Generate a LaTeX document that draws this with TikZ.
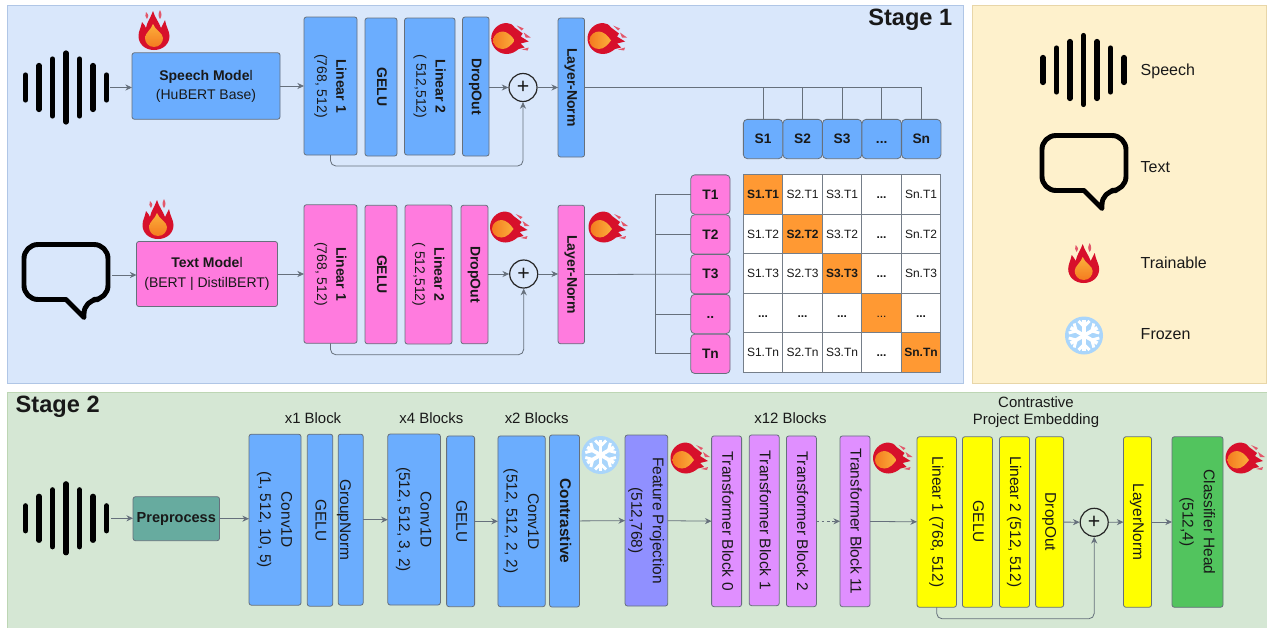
\documentclass[tikz,border=0pt]{standalone}
\usepackage{fontspec}
\setmainfont{Liberation Sans}
\usepackage{graphicx}
\usepackage{array}
\usetikzlibrary{arrows.meta, positioning, shapes.geometric}

\definecolor{panelblue}{HTML}{D9E7FB}
\definecolor{edgeblue}{HTML}{B0C6E6}
\definecolor{panelcream}{HTML}{FEF1CC}
\definecolor{edgecream}{HTML}{E8D6A8}
\definecolor{panelgreen}{HTML}{D5E7D4}
\definecolor{edgegreen}{HTML}{BDD6B4}
\definecolor{boxblue}{HTML}{6BADFE}
\definecolor{boxpink}{HTML}{FF7BDE}
\definecolor{boxteal}{HTML}{67AB9F}
\definecolor{boxindigo}{HTML}{9090FF}
\definecolor{boxviolet}{HTML}{E08FFF}
\definecolor{boxyellow}{HTML}{FFFF00}
\definecolor{boxgreen}{HTML}{52C45E}
\definecolor{boxorange}{HTML}{FF9933}
\definecolor{edgegrey}{HTML}{66707C}
\definecolor{firered}{HTML}{D7102B}
\definecolor{fireamber}{HTML}{FBB03B}
\definecolor{fireorange}{HTML}{F47B20}
\definecolor{iceblue}{HTML}{A9D5FB}

\newcommand{\vtext}[1]{\rotatebox{-90}{\begin{tabular}{@{}c@{}}#1\end{tabular}}}
\newcommand{\smallfont}{\fontsize{10.5}{14.4}\selectfont}
\newcommand{\bigfont}{\fontsize{11.6}{16}\selectfont}

\begin{document}
\begin{tikzpicture}[
    x=0.75pt, y=-0.75pt,
    every node/.style={font=\smallfont, text=black!90},
    sized/.style 2 args={minimum width=#1*0.75pt, minimum height=#2*0.75pt},
    panel/.style={rectangle, line width=0.9pt, inner sep=0pt, anchor=north west},
    block/.style={
        rectangle, rounded corners=1.8pt,
        draw=edgegrey, line width=0.6pt,
        inner sep=0pt, outer sep=0pt, align=center
    },
    cell/.style={
        rectangle, draw=edgegrey!90, fill=white, line width=0.5pt,
        minimum size=39.5*0.75pt, inner sep=0pt, outer sep=0pt,
        font=\fontsize{9}{10}\selectfont, text height=6.5pt, text depth=0pt
    },
    hit/.style={cell, fill=boxorange},
    head/.style={block, rounded corners=3pt, minimum size=39.3*0.75pt, font=\fontsize{10.3}{12}\selectfont\bfseries,
        text height=7.2pt, text depth=0pt},
    plus/.style={
        circle, draw=black!85, line width=0.9pt, fill=none,
        minimum size=28*0.75pt, inner sep=0pt,
        font=\fontsize{16}{16}\selectfont
    },
    tag/.style={font=\fontsize{11.2}{12.8}\selectfont, align=center},
    legend/.style={font=\fontsize{12}{14}\selectfont, anchor=west},
    stage/.style={font=\fontsize{17.7}{20}\selectfont\bfseries},
    line/.style={draw=edgegrey, line width=0.6pt},
    arrow/.style={line, -{Stealth[length=5pt, width=4.6pt]}},
    wave/.pic={
        \foreach \x/\len in {-40.5/12.5, -27/22, -13.5/28.5, 0/34.5, 13.5/28.5, 27/22, 40.5/12.5}
            \draw [black, line width=3.9pt, line cap=round] (\x,-\len) -- (\x,\len);
    },
    bubble/.pic={
        \draw [black, line width=3.7pt, line join=round, rounded corners=10.5pt]
            (0,27.5) -- (-42,27.5) -- (-42,-27.5) -- (42,-27.5) -- (42,27.5) -- (18,27.5)
            [sharp corners] -- (18,45.5) -- cycle;
    },
    fire/.pic={
        \fill [firered] (0,20) .. controls (-9,20) and (-15.5,14) .. (-15.5,6)
            .. controls (-15.5,1) and (-13,-2) .. (-12,-8)
            .. controls (-10,-6) and (-9,-4) .. (-8,-2)
            .. controls (-7,-8) and (-4,-11) .. (-1,-19)
            .. controls (1,-12) and (5,-8) .. (7,-2)
            .. controls (8,-4) and (9,-6) .. (11,-10)
            .. controls (12,-3) and (15.5,1) .. (15.5,6)
            .. controls (15.5,14) and (9,20) .. (0,20) -- cycle;
        \fill [firered!70] (-8,-18) .. controls (-5,-15) and (-5,-13) .. (-7,-11)
            .. controls (-9,-13) and (-9,-15) .. cycle;
        \fill [firered!70] (6,-20) .. controls (8,-16) and (8,-14) .. (6,-11)
            .. controls (4,-14) and (4,-16) .. cycle;
        \shade [top color=fireamber, bottom color=fireorange]
            (0,17) .. controls (-6,17) and (-9,12) .. (-9,8)
            .. controls (-9,3) and (-3,0) .. (-1,-6)
            .. controls (1,0) and (9,3) .. (9,8)
            .. controls (9,12) and (6,17) .. (0,17) -- cycle;
    },
    comet/.pic={
        \fill [firered] (-4,-15.5) .. controls (-13,-15.5) and (-19.5,-8) .. (-19.5,0)
            .. controls (-19.5,8) and (-13,15.5) .. (-4,15.5)
            .. controls (1,15.5) and (5,13) .. (8,10.5) -- (14,9) -- (10,5) -- (18,3) -- (10,-2)
            -- (12,-5) -- (4,-11) .. controls (2,-14) and (-1,-15.5) .. (-4,-15.5) -- cycle;
        \fill [firered!70] (6,-13) -- (13,-10) -- (11,-8) -- cycle;
        \fill [firered!70] (13,-6) -- (20,-1) -- (15,-1) -- cycle;
        \fill [firered!70] (11,11) -- (18,9) -- (17,12) -- cycle;
        \shade [left color=fireorange, right color=fireamber]
            (-8,10.5) .. controls (-14,10.5) and (-17.5,6) .. (-17.5,2)
            .. controls (-17.5,-4) and (-12,-7) .. (-8,-7)
            .. controls (-4,-7) and (1,-3) .. (4,2)
            .. controls (1,6) and (-3,10.5) .. (-8,10.5) -- cycle;
    },
    frost/.pic={
        \fill [iceblue] (0,0) circle (19);
        \foreach \a in {0,60,...,300} {
            \draw [white, line width=2.8pt, rotate=\a] (0,0) -- (0,-15.5);
            \draw [white, line width=2.2pt, rotate=\a] (-5.5,-14.5) -- (0,-9) -- (5.5,-14.5);
        }
    },
]

% Panels
\useasboundingbox (0,0) rectangle (1267,628);
\node (panel_stage1) [panel, sized={956}{378}, fill=panelblue, draw=edgeblue] at (7,5) {};
\node (panel_legend) [panel, sized={294}{378}, fill=panelcream, draw=edgecream] at (972,5) {};
\node (panel_stage2) [panel, sized={1261}{240}, fill=panelgreen, draw=edgegreen] at (7,392) {};

\node (title_stage1) [stage, anchor=east] at (957,20) {Stage 1};
\node (title_stage2) [stage, anchor=west] at (11,407) {Stage 2};

% Speech branch
\pic at (66,87.5) {wave};
\coordinate (wave_end_s) at (110,87.5);
\node (speech_model) [block, sized={148}{66.5}, fill=boxblue] at (206,86) {\textbf{Speech Mode}l\\(HuBERT Base)};
\node (lin1_s) [block, sized={53}{138}, fill=boxblue] at (330.5,86) {\vtext{\textbf{Linear 1}\\(768, 512)}};
\node (gelu_s) [block, sized={32}{138}, fill=boxblue] at (381,87) {\vtext{\textbf{GELU}}};
\node (lin2_s) [block, sized={50.5}{137}, fill=boxblue] at (429.8,86.5) {\vtext{\textbf{Linear 2}\\( 512,512)}};
\node (drop_s) [block, sized={26.5}{139}, fill=boxblue] at (475.8,86.5) {\vtext{\textbf{DropOut}}};
\node (plus_s) [plus] at (523,87.5) {+};
\node (norm_s) [block, sized={26.5}{139}, fill=boxblue] at (571.3,87.5) {\vtext{\textbf{Layer-Norm}}};

\pic at (154,30) {fire};
\pic at (510.7,38.5) {comet};
\pic at (607,38.5) {comet};

\node (s1) [head, fill=boxblue] at (763,139) {S1};
\node (s2) [head, fill=boxblue, right=0.2pt of s1] {S2};
\node (s3) [head, fill=boxblue, right=0.2pt of s2] {S3};
\node (s4) [head, fill=boxblue, right=0.2pt of s3] {...};
\node (s5) [head, fill=boxblue, right=0.2pt of s4] {Sn};

% Text branch
\pic at (66,272) {bubble};
\coordinate (bubble_end_t) at (112,275);
\node (text_model) [block, sized={141}{65}, fill=boxpink] at (207,274) {\textbf{Text Mode}l\\(BERT | DistilBERT)};
\node (lin1_t) [block, sized={53}{138.5}, fill=boxpink] at (330.5,274) {\vtext{\textbf{Linear 1}\\(768, 512)}};
\node (gelu_t) [block, sized={32}{138.5}, fill=boxpink] at (381,274.5) {\vtext{\textbf{GELU}}};
\node (lin2_t) [block, sized={47}{139}, fill=boxpink] at (428.5,274.5) {\vtext{\textbf{Linear 2}\\( 512,512)}};
\node (drop_t) [block, sized={27}{138.5}, fill=boxpink] at (474.5,274.5) {\vtext{\textbf{DropOut}}};
\node (plus_t) [plus] at (523.7,274) {+};
\node (norm_t) [block, sized={26.5}{138.5}, fill=boxpink] at (571.3,274.5) {\vtext{\textbf{Layer-Norm}}};

\pic at (158,219) {fire};
\pic at (509.5,227) {comet};
\pic at (608,227) {comet};

\node (t1) [head, fill=boxpink] at (710.4,194.5) {T1};
\node (t2) [head, fill=boxpink, below=0.4pt of t1] {T2};
\node (t3) [head, fill=boxpink, below=0.4pt of t2] {T3};
\node (t4) [head, fill=boxpink, below=0.4pt of t3] {..};
\node (t5) [head, fill=boxpink, below=0.4pt of t4] {Tn};

% Similarity grid
\node (c11) [hit] at (763,194.5) {\textbf{S1.T1}};
\node (c21) [cell, right=0pt of c11] {S2.T1};
\node (c31) [cell, right=0pt of c21] {S3.T1};
\node (c41) [cell, right=0pt of c31] {\textbf{...}};
\node (c51) [cell, right=0pt of c41] {Sn.T1};
\node (c12) [cell, below=0pt of c11] {S1.T2};
\node (c22) [hit, right=0pt of c12] {\textbf{S2.T2}};
\node (c32) [cell, right=0pt of c22] {S3.T2};
\node (c42) [cell, right=0pt of c32] {\textbf{...}};
\node (c52) [cell, right=0pt of c42] {Sn.T2};
\node (c13) [cell, below=0pt of c12] {S1.T3};
\node (c23) [cell, right=0pt of c13] {S2.T3};
\node (c33) [hit, right=0pt of c23] {\textbf{S3.T3}};
\node (c43) [cell, right=0pt of c33] {\textbf{...}};
\node (c53) [cell, right=0pt of c43] {Sn.T3};
\node (c14) [cell, below=0pt of c13] {\textbf{...}};
\node (c24) [cell, right=0pt of c14] {\textbf{...}};
\node (c34) [cell, right=0pt of c24] {\textbf{...}};
\node (c44) [hit, right=0pt of c34] {...};
\node (c54) [cell, right=0pt of c44] {\textbf{...}};
\node (c15) [cell, below=0pt of c14] {S1.Tn};
\node (c25) [cell, right=0pt of c15] {S2.Tn};
\node (c35) [cell, right=0pt of c25] {S3.Tn};
\node (c45) [cell, right=0pt of c35] {\textbf{...}};
\node (c55) [hit, right=0pt of c45] {\textbf{Sn.Tn}};

% Legend
\pic at (1083.5,70) {wave};
\pic at (1084,163) {bubble};
\pic at (1083.7,263) {fire};
\pic at (1084,335.5) {frost};
\node (leg_speech) [legend] at (1136,71) {Speech};
\node (leg_text) [legend] at (1136,167) {Text};
\node (leg_train) [legend] at (1136,263) {Trainable};
\node (leg_frozen) [legend] at (1136,334) {Frozen};

% Stage 2 blocks
\begin{scope}[every node/.style={font=\bigfont, text=black!90}]
\pic at (66,518.3) {wave};
\coordinate (wave_end_c) at (111,518.3);
\node (preprocess) [block, sized={86.5}{44}, fill=boxteal, font=\fontsize{10.9}{13}\selectfont\bfseries] at (176.3,518.7) {Preprocess};
\node (conv_a) [block, sized={52}{171}, fill=boxblue] at (275,519.7) {\vtext{Conv1D\\(1, 512, 10, 5)}};
\node (gelu_a) [block, sized={25.5}{172}, fill=boxblue] at (320,520.2) {\vtext{GELU}};
\node (group_a) [block, sized={25}{171}, fill=boxblue] at (350.7,519.7) {\hspace*{-9.5pt}\vtext{GroupNorm}};
\node (conv_b) [block, sized={52.6}{171}, fill=boxblue] at (414.1,519.5) {\vtext{Conv1D\\(512, 512, 3, 2)}};
\node (gelu_b) [block, sized={28}{170.7}, fill=boxblue] at (460.6,521.3) {\vtext{GELU}};
\node (conv_c) [block, sized={47.3}{170.7}, fill=boxblue] at (521.6,521.3) {\vtext{Conv1D\\(512, 512, 2, 2)}};
\node (contrast) [block, sized={30}{172}, fill=boxblue] at (564.5,521) {\vtext{\textbf{Contrastive}}};
\node (feature) [block, sized={42}{171}, fill=boxindigo] at (646.4,520.5) {\vtext{Feature Projection\\(512,768)}};
\node (tb0) [block, sized={30}{170.7}, fill=boxviolet] at (726.6,521.3) {\vtext{Transformer Block 0}};
\node (tb1) [block, sized={30}{170.7}, fill=boxviolet] at (764.2,520.3) {\vtext{Transformer Block 1}};
\node (tb2) [block, sized={30}{170.7}, fill=boxviolet] at (801.4,521.3) {\vtext{Transformer Block 2}};
\node (tb11) [block, sized={30}{170.7}, fill=boxviolet] at (855,521.3) {\vtext{Transformer Block 11}};
\node (lin1_c) [block, sized={39.4}{170.5}, fill=boxyellow] at (936.7,522) {\vtext{Linear 1 (768, 512)}};
\node (gelu_c) [block, sized={30}{170.5}, fill=boxyellow] at (977.4,522) {\vtext{GELU}};
\node (lin2_c) [block, sized={30}{170.5}, fill=boxyellow] at (1014.5,522) {\vtext{Linear 2 (512, 512)}};
\node (drop_c) [block, sized={28}{170.5}, fill=boxyellow] at (1049.6,522) {\vtext{DropOut}};
\node (plus_c) [plus] at (1094.2,522.3) {+};
\node (norm_c) [block, sized={28}{170.5}, fill=boxyellow] at (1137.5,522) {\vtext{LayerNorm}};
\node (head_c) [block, sized={51}{170.5}, fill=boxgreen] at (1197.5,522) {\vtext{Classifier Head\\(512,4)}};
\end{scope}

\pic at (600.6,455) {frost};
\pic at (690,458) {comet};
\pic at (892.5,458) {comet};
\pic at (1245,458) {comet};

\node (tag_x1) [tag] at (313,418) {x1 Block};
\node (tag_x4) [tag] at (431.4,418) {x4 Blocks};
\node (tag_x2) [tag] at (536.7,418) {x2 Blocks};
\node (tag_x12) [tag] at (790.5,418) {x12 Blocks};
\node (tag_proj) [tag] at (1036,412.5) {Contrastive\\Project Embedding};

% Arrows
\draw [arrow] (wave_end_s) -- (wave_end_s -| speech_model.west);
\draw [arrow] (speech_model) -- (lin1_s);
\draw [arrow] (drop_s.east |- plus_s) -- (plus_s);
\draw [arrow] (plus_s) -- (plus_s -| norm_s.west);
\draw [arrow, rounded corners=4pt] (lin1_s.south) -- ++(0,11) -| (plus_s.south);

\draw [line] (norm_s.east) -- (norm_s.east -| s5.north) -- (s5.north);
\draw [line] (norm_s.east -| s1.north) -- (s1.north);
\draw [line] (norm_s.east -| s2.north) -- (s2.north);
\draw [line] (norm_s.east -| s3.north) -- (s3.north);
\draw [line] (norm_s.east -| s4.north) -- (s4.north);

\draw [arrow] (bubble_end_t) -- (bubble_end_t -| text_model.west);
\draw [arrow] (text_model) -- (lin1_t);
\draw [arrow] (drop_t.east |- plus_t) -- (plus_t);
\draw [arrow] (plus_t) -- (plus_t -| norm_t.west);
\draw [arrow, rounded corners=4pt] (lin1_t.south) -- ++(0,11.5) -| (plus_t.south);

\coordinate (tree_top) at (655.3,194.5);
\draw [line] (norm_t.east) -- (t3.west);
\draw [line] (t1.west) -- (tree_top) -- (tree_top |- t5.west) -- (t5.west);
\draw [line] (tree_top |- t2.west) -- (t2.west);
\draw [line] (tree_top |- t4.west) -- (t4.west);

\draw [arrow] (wave_end_c) -- (wave_end_c -| preprocess.west);
\draw [arrow] (preprocess.east) -- (preprocess.east -| conv_a.west);
\draw [arrow] (group_a.east) -- (group_a.east -| conv_b.west);
\draw [arrow] (gelu_b) -- (conv_c);
\draw [arrow] (contrast) -- (feature);
\draw [arrow] (feature) -- (tb0);
\draw [arrow, dash pattern=on 2pt off 2pt] (tb2) -- (tb11);
\draw [arrow] (tb11) -- (lin1_c);
\draw [arrow] (drop_c) -- (plus_c);
\draw [arrow] (plus_c) -- (norm_c);
\draw [arrow] (norm_c) -- (head_c);
\draw [arrow, rounded corners=4pt] (lin1_c.south) -- ++(0,11.5) -| (plus_c.south);

\end{tikzpicture}
\end{document}
